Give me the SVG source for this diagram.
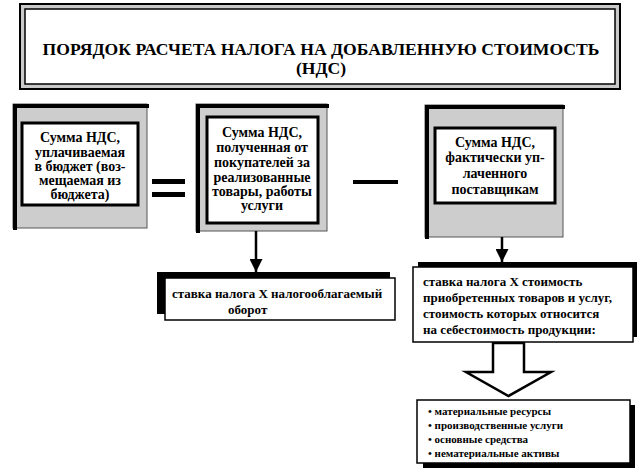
<svg xmlns="http://www.w3.org/2000/svg" width="641" height="476" viewBox="0 0 641 476">
<defs>
<style>
text{font-family:"Liberation Serif","Times New Roman","DejaVu Serif",serif;font-weight:bold;fill:#000}
.bt{font-size:14px;text-anchor:middle}
.st{font-size:13px}
.lt{font-size:11px}
.tt{font-size:17.6px;text-anchor:middle}
.shade{fill:#cdcdcd;stroke:#555;stroke-width:1}
.inner{fill:#fff;stroke:#000;stroke-width:3}
.wbox{fill:#fff;stroke:#000;stroke-width:1.5}
.edge{stroke:#000;fill:none;stroke-linecap:square}
.conn{stroke:#000;stroke-width:2.5;fill:none}
</style>
<marker id="ah" viewBox="0 0 10 10" refX="10" refY="5" markerWidth="13" markerHeight="13" orient="auto" markerUnits="userSpaceOnUse">
<path d="M0,0 L10,5 L0,10 Z" fill="#000"/>
</marker>
</defs>
<rect width="641" height="476" fill="#fff"/>

<g id="title">
<rect x="20" y="4" width="600" height="85" fill="#c9c9c9" stroke="#000" stroke-width="2"/>
<rect x="25" y="9" width="590" height="75" fill="#fff" stroke="#000" stroke-width="1.5"/>
<text class="tt" x="321" y="55">ПОРЯДОК РАСЧЕТА НАЛОГА НА ДОБАВЛЕННУЮ СТОИМОСТЬ</text>
<text class="tt" x="321" y="74">(НДС)</text>
</g>

<g id="box1">
<rect class="shade" x="13" y="104" width="134" height="124"/>
<path class="edge" d="M15,228 V106 H147" stroke-width="4"/>
<rect class="inner" x="22" y="123" width="116" height="82"/>
<text class="bt" x="80" y="142">Сумма НДС,</text>
<text class="bt" x="80" y="157">уплачиваемая</text>
<text class="bt" x="80" y="171">в бюджет (воз-</text>
<text class="bt" x="80" y="185">мещаемая из</text>
<text class="bt" x="80" y="199">бюджета)</text>
</g>

<g id="equals">
<rect x="152" y="179" width="33" height="5" fill="#000"/>
<rect x="152" y="192" width="33" height="5" fill="#000"/>
</g>

<g id="box2">
<rect class="shade" x="196" y="104" width="131" height="127"/>
<path class="edge" d="M198,231 V106 H327" stroke-width="4"/>
<rect class="inner" x="207" y="117" width="111" height="106"/>
<text class="bt" x="262" y="137">Сумма НДС,</text>
<text class="bt" x="262" y="152">полученная от</text>
<text class="bt" x="262" y="167">покупателей за</text>
<text class="bt" x="262" y="182">реализованные</text>
<text class="bt" x="262" y="196">товары, работы</text>
<text class="bt" x="262" y="210">услуги</text>
</g>

<g id="minus">
<rect x="353" y="180" width="45" height="4" fill="#000"/>
</g>

<g id="box3">
<rect class="shade" x="425" y="105" width="138" height="132"/>
<path class="edge" d="M427,237 V107 H563" stroke-width="4"/>
<rect class="inner" x="435" y="128" width="120" height="75"/>
<text class="bt" x="495" y="147">Сумма НДС,</text>
<text class="bt" x="495" y="162">фактически уп-</text>
<text class="bt" x="495" y="178">лаченного</text>
<text class="bt" x="495" y="194">поставщикам</text>
</g>

<g id="connectors">
<line class="conn" x1="256" y1="231" x2="256" y2="272" marker-end="url(#ah)"/>
<line class="conn" x1="502" y1="237" x2="502" y2="262" marker-end="url(#ah)"/>
<polygon points="493,343 524,343 524,372 551,372 508.5,396 466,372 493,372" fill="#fff" stroke="#000" stroke-width="2.5" stroke-linejoin="miter"/>
</g>

<g id="rate1">
<rect x="157" y="272" width="233" height="42" fill="#000"/>
<rect class="wbox" x="165" y="278" width="230" height="42"/>
<text class="st" x="172" y="298">ставка налога Х налогооблагаемый</text>
<text class="st" x="228" y="314">оборот</text>
</g>

<g id="rate2">
<rect x="418" y="262" width="219" height="75" fill="#000"/>
<rect class="wbox" x="413" y="267" width="220" height="75"/>
<text class="st" x="423" y="286">ставка налога Х стоимость</text>
<text class="st" x="423" y="302">приобретенных товаров и услуг,</text>
<text class="st" x="423" y="318">стоимость которых относится</text>
<text class="st" x="423" y="334">на себестоимость продукции:</text>
</g>

<g id="list">
<rect x="423" y="405" width="212" height="63" fill="#000"/>
<rect class="wbox" x="417" y="400" width="213" height="63"/>
<text class="lt" x="428" y="415">• материальные ресурсы</text>
<text class="lt" x="428" y="429">• производственные услуги</text>
<text class="lt" x="428" y="443">• основные средства</text>
<text class="lt" x="428" y="457">• нематериальные активы</text>
</g>
</svg>
